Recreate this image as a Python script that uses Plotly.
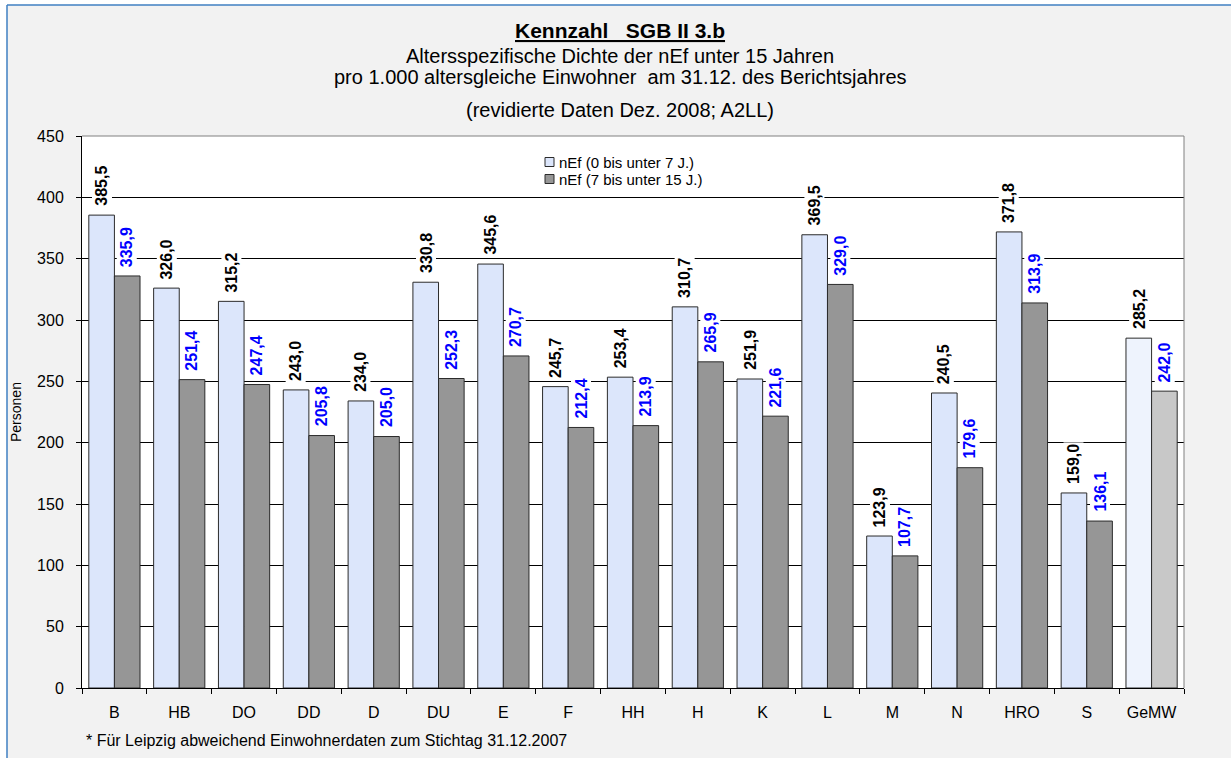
import plotly.graph_objects as go

categories = ["B", "HB", "DO", "DD", "D", "DU", "E", "F", "HH", "H", "K", "L", "M", "N", "HRO", "S", "GeMW"]
young = [385.5, 326.0, 315.2, 243.0, 234.0, 330.8, 345.6, 245.7, 253.4, 310.7, 251.9, 369.5, 123.9, 240.5, 371.8, 159.0, 285.2]
older = [335.9, 251.4, 247.4, 205.8, 205.0, 252.3, 270.7, 212.4, 213.9, 265.9, 221.6, 329.0, 107.7, 179.6, 313.9, 136.1, 242.0]
series_names = ["nEf (0 bis unter 7 J.)", "nEf (7 bis unter 15 J.)"]
y_ticks = [0, 50, 100, 150, 200, 250, 300, 350, 400, 450]

FONT = "Liberation Sans, Arial, sans-serif"
W, H = 1231, 758
L, R, T, B = 82, 47, 136, 70
PW, PH = W - L - R, H - T - B

def px(x):
    return (x - L) / PW

def py(y):
    return 1 - (y - T) / PH

c1 = ["#dce6fb"] * (len(categories) - 1) + ["#eef3fd"]
c2 = ["#969696"] * (len(categories) - 1) + ["#c8c8c8"]
legend_colors = ["#dce6fb", "#969696"]

fig = go.Figure()
fig.add_trace(go.Bar(x=categories, y=young, name=series_names[0], showlegend=False,
                     marker=dict(color=c1, line=dict(color="#2b2b2b", width=1))))
fig.add_trace(go.Bar(x=categories, y=older, name=series_names[1], showlegend=False,
                     marker=dict(color=c2, line=dict(color="#2b2b2b", width=1))))

bargap = 0.21
off = (1 - bargap) / 4 * PW / len(categories)

ann = []
for c, v in zip(categories, young):
    ann.append(dict(x=c, y=v, xref="x", yref="y", text=f"{v:.1f}".replace(".", ","),
                    textangle=-90, yanchor="bottom", xanchor="center", xshift=-off, yshift=7,
                    showarrow=False, bgcolor="white", borderpad=1,
                    font=dict(family=FONT, size=16, color="black", weight="bold")))
for c, v in zip(categories, older):
    ann.append(dict(x=c, y=v, xref="x", yref="y", text=f"{v:.1f}".replace(".", ","),
                    textangle=-90, yanchor="bottom", xanchor="center", xshift=off, yshift=7,
                    showarrow=False, bgcolor="white", borderpad=1,
                    font=dict(family=FONT, size=16, color="#0000ff", weight="bold")))

cx = px(620)
def text_ann(x, y, text, size, xanchor="center", angle=0):
    return dict(x=x, y=y, xref="paper", yref="paper", text=text, xanchor=xanchor,
                yanchor="middle", textangle=angle, showarrow=False,
                font=dict(family=FONT, size=size, color="black"))

ann += [
    text_ann(cx, py(31), "<b><u>Kennzahl&nbsp;&nbsp;&nbsp;SGB II 3.b</u></b>", 21),
    text_ann(cx, py(56), "Altersspezifische Dichte der nEf unter 15 Jahren", 20),
    text_ann(cx, py(77), "pro 1.000 altersgleiche Einwohner&nbsp;&nbsp;am 31.12. des Berichtsjahres", 20),
    text_ann(cx, py(110), "(revidierte Daten Dez. 2008; A2LL)", 20),
    text_ann(px(84), py(740), "* Für Leipzig abweichend Einwohnerdaten zum Stichtag 31.12.2007", 16, xanchor="left"),
    text_ann(px(16), py(412), "Personen", 14, angle=-90),
]

shapes = [
    dict(type="rect", xref="paper", yref="paper", x0=px(-5), x1=px(7), y0=py(800), y1=py(-5),
         fillcolor="white", line=dict(width=0), layer="below"),
    dict(type="rect", xref="paper", yref="paper", x0=px(-5), x1=px(1240), y0=py(5), y1=py(-5),
         fillcolor="white", line=dict(width=0), layer="below"),
    dict(type="line", xref="paper", yref="paper", x0=px(7), x1=px(7), y0=py(5), y1=py(800),
         line=dict(color="#3f7fc2", width=1.5), layer="above"),
    dict(type="line", xref="paper", yref="paper", x0=px(7), x1=px(1240), y0=py(5), y1=py(5),
         line=dict(color="#3f7fc2", width=1.5), layer="above"),
    dict(type="line", xref="paper", yref="paper", x0=0, x1=1, y0=1, y1=1,
         line=dict(color="#808080", width=1), layer="above"),
    dict(type="line", xref="paper", yref="paper", x0=1, x1=1, y0=0, y1=1,
         line=dict(color="#808080", width=1), layer="above"),
]

# custom legend (compact, like the original)
for i, (name, col) in enumerate(zip(series_names, legend_colors)):
    yc = 162 + 17 * i
    shapes.append(dict(type="rect", xref="paper", yref="paper",
                       x0=px(545), x1=px(554), y0=py(yc + 4.5), y1=py(yc - 4.5),
                       fillcolor=col, line=dict(color="#2b2b2b", width=1), layer="above"))
    ann.append(text_ann(px(557), py(yc), name, 15, xanchor="left"))

fig.update_layout(
    width=W, height=H,
    margin=dict(l=L, r=R, t=T, b=B),
    paper_bgcolor="#f2f2f2", plot_bgcolor="white",
    barmode="group", bargap=bargap, bargroupgap=0,
    font=dict(family=FONT, size=14, color="black"),
    showlegend=False,
    annotations=ann, shapes=shapes,
    xaxis=dict(showline=True, linecolor="black", linewidth=1, ticks="outside", ticklen=5,
               tickcolor="black", tickson="boundaries", showgrid=False,
               ticklabelstandoff=10, tickfont=dict(family=FONT, size=16)),
    yaxis=dict(range=[0, 450], tickvals=y_ticks, showline=True, linecolor="black", linewidth=1,
               ticks="outside", ticklen=5, tickcolor="black", showgrid=True, gridcolor="black",
               gridwidth=1, zeroline=False, ticklabelstandoff=9,
               tickfont=dict(family=FONT, size=16)),
)

fig.write_html("out.html")
